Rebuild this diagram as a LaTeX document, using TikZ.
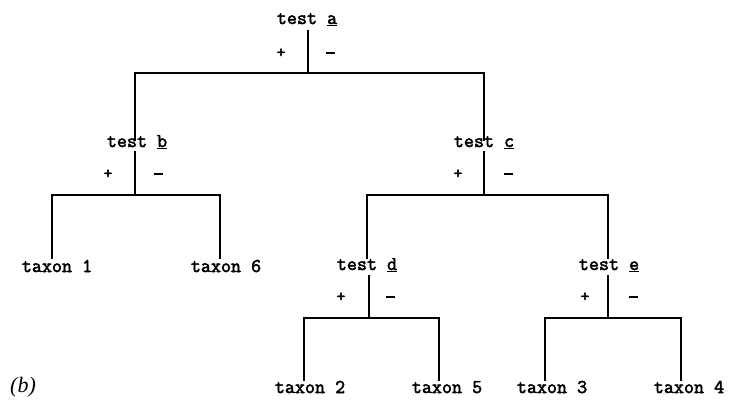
\documentclass[tikz,border=0pt]{standalone}
\usepackage{fontspec}
\setmonofont{Latin Modern Mono}[AutoFakeBold=2.5]
\setmainfont{Liberation Serif}
\begin{document}
\begin{tikzpicture}[x=1pt,y=-1pt,
  lbl/.style={font=\ttfamily\bfseries\fontsize{19.5}{21}\selectfont, inner sep=0pt, anchor=base},
  sgn/.style={font=\ttfamily\bfseries\fontsize{17}{19}\selectfont, inner sep=0pt},
  br/.style={line width=1.6pt, line cap=rect}]
\useasboundingbox (0,0) rectangle (734,405);
% test nodes
\node[lbl] (ta) at (307,24) {test \underline{a}};
\node[lbl] (tb) at (137,147) {test \underline{b}};
\node[lbl] (tc) at (484,147) {test \underline{c}};
\node[lbl] (td) at (367,270) {test \underline{d}};
\node[lbl] (te) at (609,270) {test \underline{e}};
% taxa
\node[lbl] (x1) at (57,272) {taxon 1};
\node[lbl] (x6) at (226,272) {taxon 6};
\node[lbl] (x2) at (310,393) {taxon 2};
\node[lbl] (x5) at (447,393) {taxon 5};
\node[lbl] (x3) at (552,393) {taxon 3};
\node[lbl] (x4) at (689,393) {taxon 4};
% branch coordinates
\coordinate (ja) at (308,73);
\coordinate (jb) at (135,195);
\coordinate (jc) at (484,195);
\coordinate (jd) at (369,318);
\coordinate (je) at (608,318);
% signs
\node[sgn] (pa) at (281,53) {+}; \node[sgn] (ma) at (330,53) {\rule{9pt}{2.6pt}};
\node[sgn] (pb) at (108,174) {+}; \node[sgn] (mb) at (158,174) {\rule{9pt}{2.6pt}};
\node[sgn] (pc) at (458,174) {+}; \node[sgn] (mc) at (508,174) {\rule{9pt}{2.6pt}};
\node[sgn] (pd) at (341,297) {+}; \node[sgn] (md) at (390,297) {\rule{9pt}{2.6pt}};
\node[sgn] (pe) at (585,297) {+}; \node[sgn] (me) at (633,297) {\rule{9pt}{2.6pt}};
% tree a
\draw[br] (ja |- 0,31) -- (ja);
\draw[br] (jb |- 0,140) -- (jb |- ja) -- (jc |- ja) -- (jc |- 0,140);
% tree b
\draw[br] (jb |- 0,152) -- (jb);
\draw[br] (52,258) -- (52,195) -- (220,195) -- (220,258);
% tree c
\draw[br] (jc |- 0,152) -- (jc);
\draw[br] (367,258) -- (367,195) -- (608,195) -- (608,258);
% tree d
\draw[br] (jd |- 0,276) -- (jd);
\draw[br] (304,380) -- (304,318) -- (439,318) -- (439,380);
% tree e
\draw[br] (je |- 0,276) -- (je);
\draw[br] (545,380) -- (545,318) -- (681,318) -- (681,380);
\node[font=\itshape\fontsize{22}{24}\selectfont, anchor=base west, inner sep=0pt] (lab) at (10,392) {(b)};
\end{tikzpicture}
\end{document}
